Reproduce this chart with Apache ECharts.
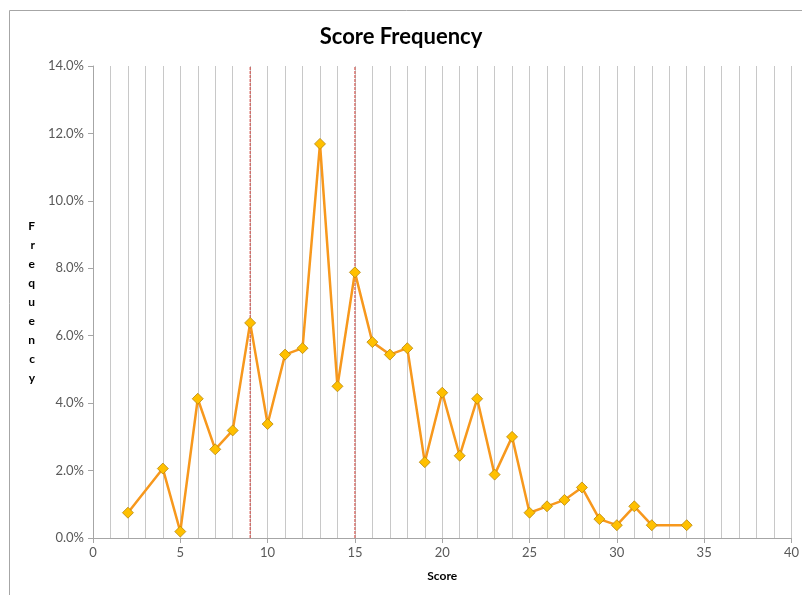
<!DOCTYPE html>
<html>
<head>
<meta charset="utf-8">
<script src="https://cdn.jsdelivr.net/npm/echarts@6/dist/echarts.min.js"></script>
<style>
html,body{margin:0;padding:0;background:#fff;}
#chart{width:802px;height:595px;}
</style>
</head>
<body>
<div id="chart"></div>
<script>
const scores = [2, 4, 5, 6, 7, 8, 9, 10, 11, 12, 13, 14, 15, 16, 17, 18, 19, 20, 21, 22, 23, 24, 25, 26, 27, 28, 29, 30, 31, 32, 34];
const frequency = [0.75, 2.06, 0.19, 4.13, 2.63, 3.19, 6.38, 3.38, 5.44, 5.63, 11.69, 4.50, 7.88, 5.81, 5.44, 5.63, 2.25, 4.31, 2.44, 4.13, 1.88, 3.00, 0.75, 0.94, 1.13, 1.50, 0.56, 0.38, 0.94, 0.38, 0.38];
const markerLines = [9, 15];
const titleText = 'Score Frequency';
const xName = 'Score';
const yName = 'Frequency';

const font = 'Lato, "Open Sans", sans-serif';
const chart = echarts.init(document.getElementById('chart'));
const refSeries = markerLines.map(v => ({
  type: 'line',
  data: [[v, 0], [v, 14]],
  symbol: 'none',
  silent: true,
  z: 4,
  lineStyle: { color: '#D0403A', type: [3, 1], width: 1 }
}));
chart.setOption({
  animation: false,
  title: {
    text: titleText,
    left: 'center',
    top: 21,
    textStyle: { fontFamily: font, fontSize: 22, fontWeight: 'bold', color: '#000' }
  },
  graphic: [{
    type: 'rect',
    shape: { x: 9.5, y: 10.5, width: 900, height: 700 },
    style: { fill: 'none', stroke: '#a6a6a6', lineWidth: 1 },
    silent: true
  }],
  grid: { left: 93, right: 9, top: 66, bottom: 57 },
  xAxis: {
    type: 'value',
    min: 0, max: 40, interval: 5,
    name: xName,
    nameLocation: 'middle',
    nameGap: 32,
    nameTextStyle: { fontFamily: font, fontSize: 12, fontWeight: 'bold', color: '#000' },
    axisLine: { show: true, onZero: false, lineStyle: { color: '#a6a6a6', width: 1 } },
    axisTick: { show: true, length: 5, lineStyle: { color: '#a6a6a6' } },
    axisLabel: { fontFamily: font, fontSize: 13, color: '#595959', margin: 8 },
    splitLine: { show: true, lineStyle: { color: '#c8c8c8', width: 1 } },
    minorTick: { show: false, splitNumber: 5 },
    minorSplitLine: { show: true, lineStyle: { color: '#c8c8c8', width: 1 } }
  },
  yAxis: {
    type: 'value',
    min: 0, max: 14, interval: 2,
    name: yName.split('').join('\n'),
    nameLocation: 'middle',
    nameRotate: 0,
    nameGap: 58,
    nameTextStyle: { fontFamily: font, fontSize: 12, fontWeight: 'bold', color: '#000', lineHeight: 19 },
    axisLine: { show: true, lineStyle: { color: '#a6a6a6', width: 1 } },
    axisTick: { show: true, length: 5, lineStyle: { color: '#a6a6a6' } },
    axisLabel: { fontFamily: font, fontSize: 13, color: '#595959', margin: 9,
      formatter: v => v.toFixed(1) + '%' },
    splitLine: { show: false }
  },
  series: refSeries.concat([{
    type: 'line',
    data: scores.map((s, i) => [s, frequency[i]]),
    lineStyle: { color: '#F7981D', width: 2.5 },
    symbol: 'diamond',
    symbolSize: 11,
    itemStyle: { color: '#FFC000', borderColor: '#B8860B', borderWidth: 0.8 },
    z: 5
  }])
});
</script>
</body>
</html>
